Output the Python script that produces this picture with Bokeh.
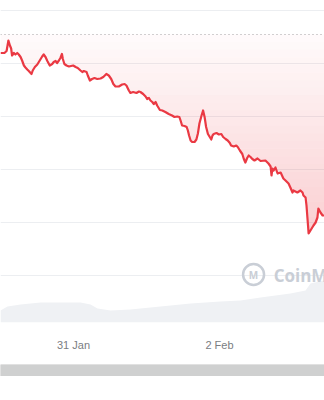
import numpy as np
from bokeh.plotting import figure
from bokeh.layouts import column
from bokeh.models import Range1d, FixedTicker, Span
from bokeh.core.properties import value
from bokeh.embed import file_html
from bokeh.resources import INLINE

# ---- data (hours since 30 Jan 00:00, price in USD) ----
TIME_H = [
    0.0, 1.3, 2.0, 2.6, 3.1, 3.5, 3.8, 4.4, 4.9, 5.5,
    6.0, 6.6, 7.1, 7.7, 8.2, 8.8, 9.3, 9.9, 10.2, 10.6,
    11.3, 12.1, 12.6, 13.2, 13.7, 14.2, 14.8, 15.4, 16.2, 17.0,
    17.5, 18.1, 18.6, 19.2, 19.7, 20.2, 20.5, 21.0, 21.7, 22.5,
    23.2, 23.9, 24.7, 25.4, 26.3, 26.9, 27.4, 28.3, 28.7, 29.4,
    30.1, 30.9, 31.8, 32.9, 33.8, 34.8, 35.6, 36.4, 37.1, 37.8,
    38.9, 40.0, 40.8, 41.4, 42.2, 42.7, 43.6, 44.7, 45.5, 46.0,
    46.9, 47.7, 48.2, 48.8, 49.3, 49.9, 50.4, 51.0, 51.5, 52.4,
    53.2, 54.2, 55.3, 56.4, 57.2, 58.1, 58.8, 59.2, 59.7, 60.5,
    61.2, 61.6, 62.0, 62.5, 63.0, 63.8, 64.4, 64.9, 65.4, 66.1,
    66.6, 67.1, 67.6, 68.2, 68.8, 69.3, 69.7, 70.1, 71.0, 71.8,
    72.6, 73.2, 74.0, 74.7, 75.4, 75.8, 76.7, 77.5, 78.0, 78.7,
    79.5, 80.0, 80.5, 81.1, 81.6, 82.2, 82.8, 83.5, 84.5, 85.5,
    87.1, 88.1, 88.8, 89.1, 89.4, 89.8, 90.4, 91.1, 92.1, 93.0,
    93.7, 94.7, 95.3, 96.0, 96.3, 97.6, 98.6, 99.3, 99.6, 100.3,
    100.6, 100.9, 101.3, 101.9, 102.9, 103.6, 104.2, 104.5, 105.2, 105.9,
    106.5,
]
PRICE = [
    1.2695, 1.2695, 1.2715, 1.2820, 1.2770, 1.2740, 1.2670, 1.2695, 1.2680, 1.2695,
    1.2680, 1.2655, 1.2620, 1.2570, 1.2550, 1.2530, 1.2515, 1.2495, 1.2485, 1.2520,
    1.2555, 1.2580, 1.2605, 1.2635, 1.2660, 1.2680, 1.2655, 1.2615, 1.2570, 1.2585,
    1.2605, 1.2615, 1.2595, 1.2620, 1.2645, 1.2685, 1.2635, 1.2585, 1.2570, 1.2560,
    1.2565, 1.2570, 1.2555, 1.2545, 1.2520, 1.2505, 1.2515, 1.2505, 1.2470, 1.2420,
    1.2435, 1.2445, 1.2435, 1.2440, 1.2455, 1.2485, 1.2470, 1.2435, 1.2385, 1.2360,
    1.2360, 1.2380, 1.2385, 1.2370, 1.2320, 1.2295, 1.2305, 1.2295, 1.2310, 1.2305,
    1.2285, 1.2260, 1.2235, 1.2245, 1.2220, 1.2205, 1.2185, 1.2205, 1.2170, 1.2125,
    1.2120, 1.2105, 1.2085, 1.2070, 1.2055, 1.2060, 1.2055, 1.2020, 1.1970, 1.1965,
    1.1955, 1.1920, 1.1870, 1.1820, 1.1805, 1.1805, 1.1830, 1.1890, 1.1990, 1.2070,
    1.2120, 1.2055, 1.1955, 1.1885, 1.1855, 1.1830, 1.1870, 1.1885, 1.1895, 1.1880,
    1.1885, 1.1855, 1.1835, 1.1820, 1.1795, 1.1770, 1.1760, 1.1770, 1.1755, 1.1720,
    1.1685, 1.1635, 1.1600, 1.1645, 1.1670, 1.1655, 1.1635, 1.1620, 1.1640, 1.1615,
    1.1620, 1.1590, 1.1560, 1.1470, 1.1540, 1.1520, 1.1550, 1.1490, 1.1500, 1.1440,
    1.1420, 1.1390, 1.1350, 1.1300, 1.1320, 1.1300, 1.1320, 1.1300, 1.1270, 1.1250,
    1.1170, 1.1050, 1.0890, 1.0920, 1.0970, 1.1000, 1.1050, 1.1140, 1.1100, 1.1070,
    1.1070,
]
OPEN_PRICE = 1.288

VOL_TIME_H = [0.0, 2.3, 6.6, 13.2, 26.3, 29.6, 31.9, 36.2, 42.7, 52.6,
              62.5, 72.3, 78.9, 85.5, 95.3, 100.3, 101.9, 106.5]
VOLUME = [12, 16, 18, 20, 20, 18, 14, 12, 13, 16,
          19, 21, 22, 25, 29, 32, 39, 42]

TICK_HOURS = [24, 72]
TICK_LABELS = ["31 Jan", "2 Feb"]
GRID_PRICES = [1.047, 1.100, 1.153, 1.206, 1.259, 1.3125]

RED = "#ea3943"

t = np.array(TIME_H)
pr = np.array(PRICE)

p = figure(width=324, height=364, output_backend="svg", toolbar_location=None,
           x_range=Range1d(0, 106.52), y_range=Range1d(1.0, 1.322),
           min_border_left=0, min_border_right=0, min_border_top=0,
           min_border_bottom=42)
p.outline_line_color = None
p.background_fill_color = "white"
p.border_fill_color = "white"
p.extra_y_ranges = {"vol": Range1d(0, 322)}

# grid
p.xgrid.visible = False
p.ygrid.ticker = FixedTicker(ticks=GRID_PRICES)
p.ygrid.grid_line_color = "#eceef1"
p.ygrid.grid_line_width = 1
p.yaxis.visible = False

# x axis
p.xaxis.ticker = FixedTicker(ticks=TICK_HOURS)
p.xaxis.major_label_overrides = {h: lab for h, lab in zip(TICK_HOURS, TICK_LABELS)}
p.xaxis.axis_line_color = None
p.xaxis.major_tick_line_color = None
p.xaxis.minor_tick_line_color = None
p.xaxis.major_tick_out = 0
p.xaxis.major_tick_in = 0
p.xaxis.major_label_standoff = 16
p.xaxis.major_label_text_font = "Liberation Sans"
p.xaxis.major_label_text_font_size = "11px"
p.xaxis.major_label_text_color = "#7a7d82"

# gradient fill between price line and opening price
N = 28
lowest = 1.075
d = (OPEN_PRICE - lowest) / N
for k in range(N):
    top = OPEN_PRICE - k * d
    bot = top - d
    y1 = np.clip(pr, bot, top)
    alpha = 0.02 + 0.24 * (k + 0.5) / N
    p.varea(x=t, y1=y1, y2=np.full_like(pr, top), fill_color=RED,
            fill_alpha=alpha)

# volume
p.varea(x=VOL_TIME_H, y1=[0] * len(VOLUME), y2=VOLUME, y_range_name="vol",
        fill_color="#eff1f4")

# opening price dotted line
p.add_layout(Span(location=OPEN_PRICE, dimension="width", line_color="#a3a3a3",
                  line_dash="1 3", line_width=1.2))

# watermark
p.scatter(x=[83.2], y=[1.048], size=21, marker="circle", fill_color=None,
          line_color="#c9ced6", line_width=2.5)
p.text(x=[83.2], y=[1.048], text=["M"], text_font=value("Open Sans"),
       text_font_style="bold", text_font_size="10px", text_color="#c9ced6",
       text_align="center", text_baseline="middle")
p.text(x=[89.8], y=[1.047], text=["CoinMarketCap"], text_font=value("Open Sans"),
       text_font_style="bold", text_font_size="17px", text_color="#c9ced6",
       text_align="left", text_baseline="middle")

# price line
p.line(t, pr, line_color=RED, line_width=2.2, line_join="round")

# scrollbar strip
bar = figure(width=324, height=12, output_backend="svg", toolbar_location=None,
             x_axis_location=None, y_axis_location=None,
             min_border=0, x_range=Range1d(0, 1), y_range=Range1d(0, 1))
bar.outline_line_color = None
bar.background_fill_color = "#cfd0d0"
bar.border_fill_color = "#cfd0d0"
bar.grid.visible = False
bar.quad(left=[0], right=[1], bottom=[0], top=[1], fill_color="#cfd0d0",
         line_color=None)

layout = column(p, bar, spacing=0)
open("out.html", "w").write(file_html(layout, INLINE))
